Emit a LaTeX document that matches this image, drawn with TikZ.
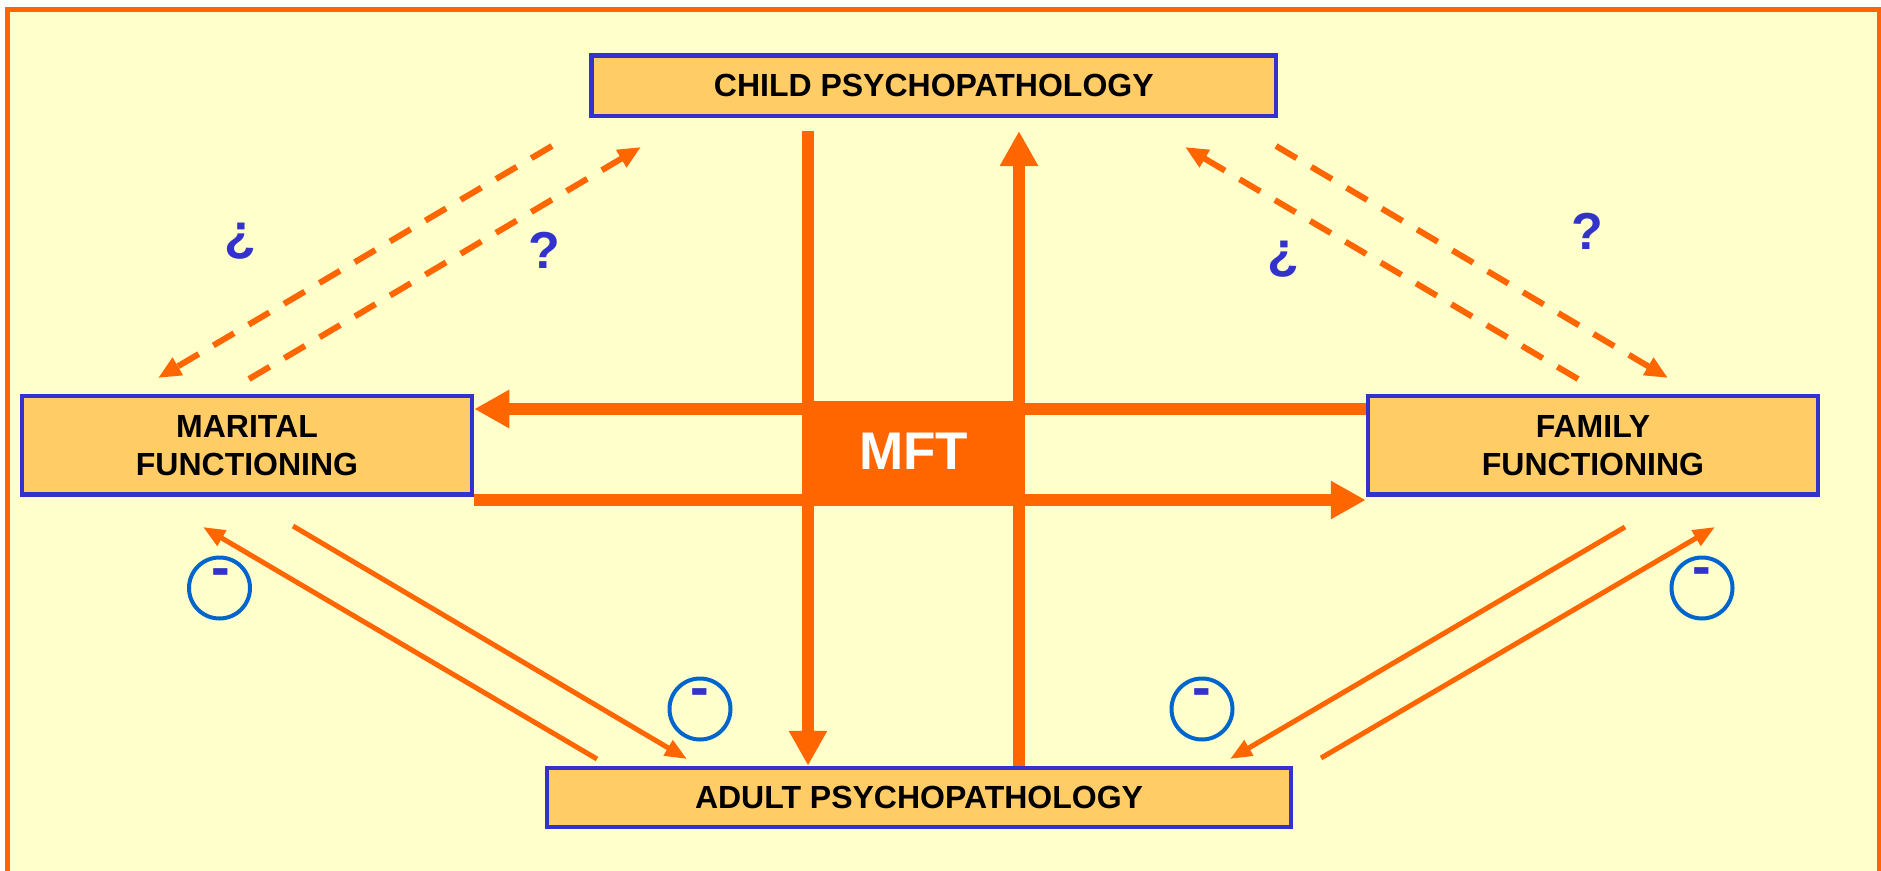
\documentclass[tikz,border=0pt]{standalone}
\usepackage{fontspec}
\setmainfont{Liberation Sans}
\usetikzlibrary{arrows.meta}
\definecolor{bgyellow}{HTML}{FFFFCC}
\definecolor{boxfill}{HTML}{FFCC66}
\definecolor{mftorange}{HTML}{FF6600}
\definecolor{boxblue}{HTML}{3333CC}
\definecolor{ringblue}{HTML}{0066CC}
\begin{document}
\begin{tikzpicture}[x=1pt,y=-1pt,
  box/.style={draw=boxblue, line width=4.5pt, fill=boxfill, font=\fontsize{32}{38}\selectfont\bfseries, align=center, inner sep=0pt},
  thickarrow/.style={draw=mftorange, line width=12pt, -{Triangle[length=35pt,width=36pt]}},
  dashedarrow/.style={draw=mftorange, line width=6pt, dash pattern=on 24pt off 17pt, -{Triangle[length=23pt,width=19pt]}},
  thinarrow/.style={draw=mftorange, line width=5pt, -{Triangle[length=22pt,width=17pt]}},
  ring/.style={circle, draw=ringblue, line width=4pt, minimum size=61pt, inner sep=0pt},
  minus/.style={text=boxblue, font=\fontsize{56}{60}\selectfont\bfseries, inner sep=0pt, anchor=base},
  qmark/.style={text=boxblue, font=\fontsize{52}{60}\selectfont\bfseries, inner sep=0pt}
]
\useasboundingbox (0,0) rectangle (1881,870);
\clip (0,0) rectangle (1881,870);
\fill[white] (0,0) rectangle (1881,870);
\draw[draw=mftorange, fill=bgyellow, line width=4.5pt] (7.5,9.5) rectangle (1879,900);

% boxes
\node[box, minimum width=684.5pt, minimum height=60.5pt] (child) at (933.75,85.75) {CHILD PSYCHOPATHOLOGY};
\node[box, minimum width=450pt, minimum height=98.5pt] (marital) at (247,445.25) {MARITAL\\FUNCTIONING};
\node[box, minimum width=450pt, minimum height=98.5pt] (family) at (1593,445.25) {FAMILY\\FUNCTIONING};
\node[box, minimum width=744pt, minimum height=59pt] (adult) at (919,797.5) {ADULT PSYCHOPATHOLOGY};

% thick connectors
\coordinate (dtop) at (808,131);
\coordinate (utop) at (1019,131);
\coordinate (hl) at (0,409);
\coordinate (hr) at (0,500);
\draw[thickarrow] (dtop) -- (dtop |- adult.north);
\draw[thickarrow] (utop |- adult.north) -- (utop);
\draw[thickarrow] (family.west |- hl) -- (marital.east |- hl);
\draw[thickarrow] (marital.east |- hr) -- (family.west |- hr);

% MFT box
\node[fill=mftorange, minimum width=223pt, minimum height=105pt, inner sep=0pt, text=white,
      font=\fontsize{53}{60}\selectfont\bfseries, text height=32pt, text depth=0pt] (mft) at (913.5,453.5) {MFT};

% dashed connectors
\coordinate (a1) at (552,146); \coordinate (a2) at (158,378);
\coordinate (b1) at (249,379); \coordinate (b2) at (641,147);
\coordinate (c1) at (1578,379); \coordinate (c2) at (1185,147);
\coordinate (d1) at (1276,146); \coordinate (d2) at (1668,378);
\draw[dashedarrow] (a1) -- (a2);
\draw[dashedarrow] (b1) -- (b2);
\draw[dashedarrow] (c1) -- (c2);
\draw[dashedarrow] (d1) -- (d2);

% thin connectors
\coordinate (e1) at (597,759); \coordinate (e2) at (203,527);
\coordinate (f1) at (293,526); \coordinate (f2) at (687,759);
\coordinate (g1) at (1625,527); \coordinate (g2) at (1230,759);
\coordinate (h1) at (1321,758); \coordinate (h2) at (1715,527);
\draw[thinarrow] (e1) -- (e2);
\draw[thinarrow] (f1) -- (f2);
\draw[thinarrow] (g1) -- (g2);
\draw[thinarrow] (h1) -- (h2);

% question marks
\node[qmark] (q1) at (240,241.5) {¿};
\node[qmark] (q2) at (544,250) {?};
\node[qmark] (q3) at (1283,259) {¿};
\node[qmark] (q4) at (1587,231) {?};

% rings with minus signs
\node[ring] (r1) at (219.5,588) {};
\node[ring] (r2) at (700,709) {};
\node[ring] (r3) at (1202,709) {};
\node[ring] (r4) at (1702,588) {};
\node[minus] (m1) at (220.5,586) {-};
\node[minus] (m2) at (700,706) {-};
\node[minus] (m3) at (1202,706) {-};
\node[minus] (m4) at (1702,585) {-};
\end{tikzpicture}
\end{document}
